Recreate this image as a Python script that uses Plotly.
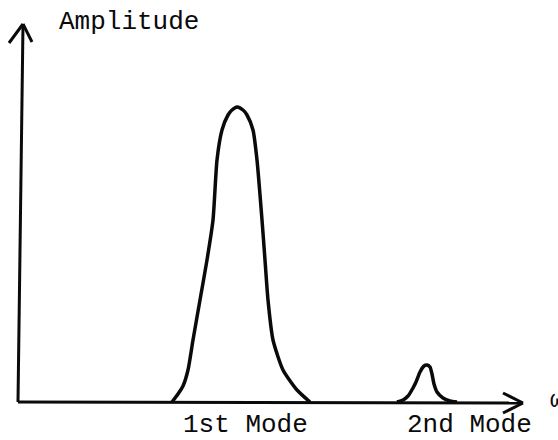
import plotly.graph_objects as go

# Response spectrum sketch: amplitude versus frequency with two modal peaks
mode1_omega = [154, 160, 165, 170, 175, 182, 189, 195, 199, 204, 210, 214, 219,
               225, 229, 235, 239, 244, 247, 250, 255, 265, 279, 292]
mode1_amp = [0, 8, 16, 32, 62, 102, 142, 182, 242, 272, 287, 292, 295,
             292, 287, 272, 242, 182, 142, 102, 62, 32, 12, 0]

mode2_omega = [379, 385, 390, 395, 398, 402, 406, 409, 412, 414, 416, 419, 425, 432, 439]
mode2_amp = [0, 2, 6, 14, 20, 30, 36, 37, 35, 28, 18, 10, 4, 1, 0]

axis_label_y = "Amplitude"
axis_label_x = "ω"
mode_labels = ["1st Mode", "2nd Mode"]

W, H = 558, 440
# plot coordinates: origin of the sketched axes sits at pixel (18, 402)
X0, Y0 = 18, 402
x_range = [-X0, W - X0]
y_range = [Y0 - H, Y0]

ink = "#0a0a0a"
font_family = "Liberation Mono, Courier New, DejaVu Sans Mono, monospace"

fig = go.Figure()
for om, am in [(mode1_omega, mode1_amp), (mode2_omega, mode2_amp)]:
    fig.add_trace(go.Scatter(
        x=om, y=am, mode="lines",
        line=dict(color=ink, width=3.5, shape="spline", smoothing=0.6),
        hoverinfo="skip", showlegend=False,
    ))

# hand-drawn style axes with open arrowheads
axis_line = dict(color=ink, width=3)
shapes = [
    dict(type="line", x0=0, y0=0, x1=505, y1=-1, line=axis_line),
    dict(type="line", x0=0, y0=0, x1=5, y1=378, line=axis_line),
    # horizontal arrowhead
    dict(type="line", x0=505, y0=-1, x1=485, y1=9, line=axis_line),
    dict(type="line", x0=505, y0=-1, x1=485, y1=-11, line=axis_line),
    # vertical arrowhead
    dict(type="line", x0=5, y0=378, x1=-9, y1=359, line=axis_line),
    dict(type="line", x0=5, y0=378, x1=14, y1=360, line=axis_line),
]

def px(x, y):
    return dict(x=x / W, y=1 - y / H, xref="paper", yref="paper")

text_font = dict(family=font_family, size=26, color=ink)
annotations = [
    dict(text=axis_label_y, xanchor="center", yanchor="middle", showarrow=False,
         font=text_font, **px(129, 22)),
    dict(text=mode_labels[0], xanchor="center", yanchor="middle", showarrow=False,
         font=text_font, **px(245, 425)),
    dict(text=mode_labels[1], xanchor="center", yanchor="middle", showarrow=False,
         font=text_font, **px(469, 425)),
    dict(text=axis_label_x, xanchor="left", yanchor="middle", showarrow=False,
         font=dict(family=font_family, size=24, color=ink), **px(548, 400)),
]

fig.update_layout(
    width=W, height=H,
    margin=dict(l=0, r=0, t=0, b=0),
    paper_bgcolor="white", plot_bgcolor="white",
    xaxis=dict(range=x_range, visible=False, fixedrange=True),
    yaxis=dict(range=y_range, visible=False, fixedrange=True),
    shapes=shapes, annotations=annotations,
)

fig.write_html("out.html")
